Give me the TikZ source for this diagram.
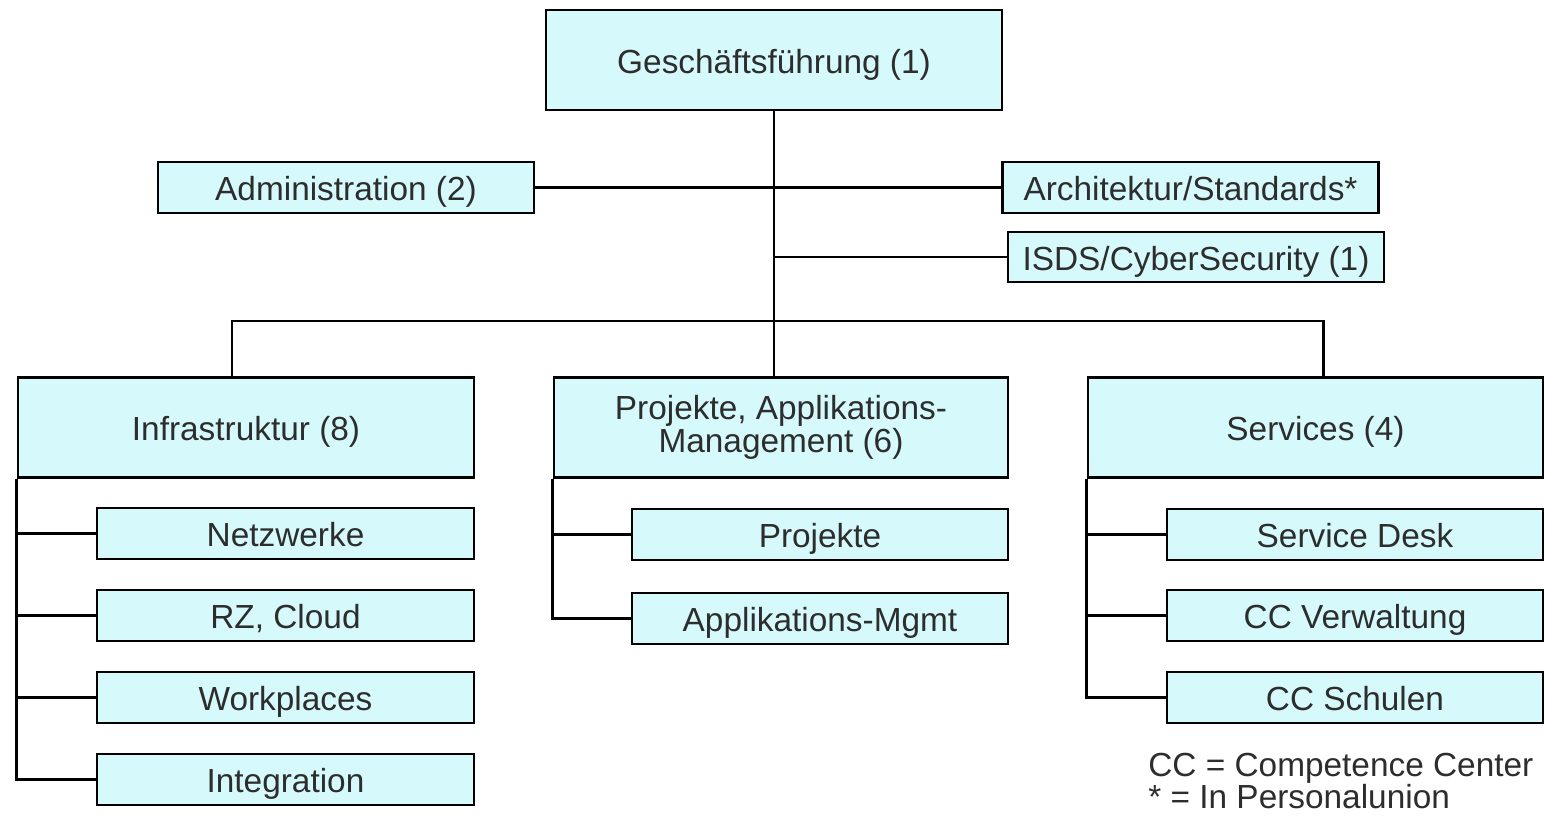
\documentclass[tikz,border=0pt]{standalone}
\usepackage{fontspec}
\setmainfont{Liberation Sans}
\usetikzlibrary{positioning, calc}
\definecolor{boxfill}{RGB}{214,250,252}
\definecolor{txtgray}{RGB}{45,45,45}
\tikzset{
  unit/.style={draw, line width=1.6pt, fill=boxfill, text=txtgray, inner sep=0pt, align=center, font=\fontsize{19}{17.6}\selectfont},
  oneline/.style={text height=17.5pt, text depth=2.2pt},
  bigunit/.style={unit, minimum width=9.12cm, minimum height=2cm},
  subunit/.style={unit, oneline, minimum width=7.52cm, minimum height=1.02cm},
  link/.style={line width=1.6pt}
}

\begin{document}
\begin{tikzpicture}[x=0.02cm, y=-0.02cm]
  \useasboundingbox (0,0) rectangle (1545,815);

  %Top
  \node[bigunit, oneline] (gf) at (774,60) {Geschäftsführung (1)};
  \node[subunit] (admin) at (346,187.5) {Administration (2)};
  \node[subunit] (arch) at (1190.5,187.5) {Architektur/Standards*};
  \node[subunit, minimum height=1cm] (isds) at (1196,257) {ISDS/CyberSecurity (1)};

  %Departments
  \node[bigunit, oneline] (infra) at (246,427.5) {Infrastruktur (8)};
  \node[bigunit, minimum width=9.08cm] (pam) at (781,427.5) {Projekte, Applikations-\\Management (6)};
  \node[bigunit, oneline, minimum width=9.1cm] (serv) at (1315.5,427.5) {Services (4)};

  %Infrastruktur teams
  \node[subunit, minimum width=7.54cm] (netz) at (285.5,533.5) {Netzwerke};
  \node[subunit, minimum width=7.54cm] (rz) at (285.5,615.5) {RZ, Cloud};
  \node[subunit, minimum width=7.54cm] (work) at (285.5,697.5) {Workplaces};
  \node[subunit, minimum width=7.54cm] (integ) at (285.5,779.5) {Integration};

  %Projekte teams
  \node[subunit] (proj) at (820,534.5) {Projekte};
  \node[subunit] (appm) at (820,618.5) {Applikations-Mgmt};

  %Services teams
  \node[subunit] (desk) at (1355,534.5) {Service Desk};
  \node[subunit] (ccv) at (1355,615.5) {CC Verwaltung};
  \node[subunit] (ccs) at (1355,697.5) {CC Schulen};

  %Legend
  \node[anchor=west, inner sep=0pt, align=left, text=txtgray, font=\fontsize{19}{18}\selectfont] (legend) at (1148,781) {CC = Competence Center\\* = In Personalunion};

  %Lines
  \coordinate (bus) at (774,321);
  \draw[link] (gf.south) -- (gf.south |- pam.north);
  \draw[link] (admin.east) -- (arch.west);
  \draw[link] (gf.south |- isds.west) -- (isds.west);
  \draw[link] ([xshift=-0.28cm]infra.north) |- (bus) -| ([xshift=0.16cm]serv.north);

  \draw[link] (infra.south west) |- (integ.west);
  \foreach \t in {netz, rz, work}
    \draw[link] (infra.south west |- \t.west) -- (\t.west);
  \draw[link] (pam.south west) |- (appm.west);
  \draw[link] (pam.south west |- proj.west) -- (proj.west);
  \draw[link] (serv.south west) |- (ccs.west);
  \foreach \t in {desk, ccv}
    \draw[link] (serv.south west |- \t.west) -- (\t.west);
\end{tikzpicture}
\end{document}
